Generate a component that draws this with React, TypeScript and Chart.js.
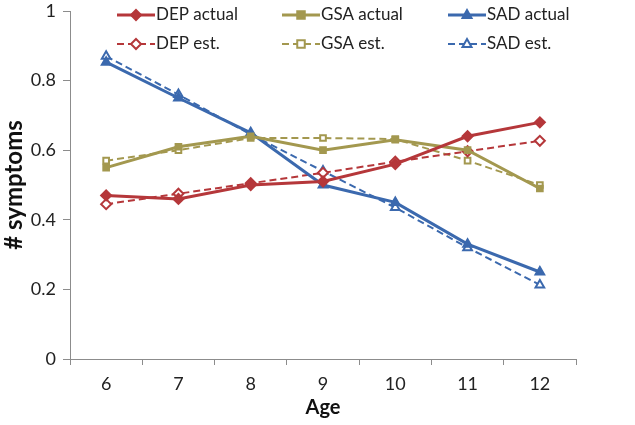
import React, { useEffect, useRef } from 'react';
import { Chart, registerables } from 'chart.js';

Chart.register(...registerables);

const ages = ['6', '7', '8', '9', '10', '11', '12'];
const depActual = [0.47, 0.46, 0.5, 0.51, 0.56, 0.64, 0.68];
const gsaActual = [0.55, 0.61, 0.64, 0.6, 0.63, 0.6, 0.49];
const sadActual = [0.853, 0.75, 0.65, 0.5, 0.45, 0.33, 0.25];
const depEst = [0.445, 0.475, 0.505, 0.535, 0.567, 0.597, 0.627];
const gsaEst = [0.57, 0.6, 0.635, 0.635, 0.632, 0.57, 0.5];
const sadEst = [0.87, 0.76, 0.645, 0.54, 0.435, 0.32, 0.213];
const yTickLabels = ['0', '0.2', '0.4', '0.6', '0.8', '1'];

const RED = '#B5373A';
const OLIVE = '#A3984F';
const BLUE = '#3B69AE';
const FONT = 'Lato, "Open Sans", sans-serif';

function drawMarker(ctx: CanvasRenderingContext2D, style: string, x: number, y: number, r: number, color: string, filled: boolean) {
  ctx.save();
  ctx.beginPath();
  if (style === 'rectRot') {
    ctx.moveTo(x, y - r);
    ctx.lineTo(x + r, y);
    ctx.lineTo(x, y + r);
    ctx.lineTo(x - r, y);
  } else if (style === 'rect') {
    const s = r * 0.75;
    ctx.rect(x - s, y - s, 2 * s, 2 * s);
  } else {
    ctx.moveTo(x, y - r);
    ctx.lineTo(x + r * 0.9, y + r * 0.6);
    ctx.lineTo(x - r * 0.9, y + r * 0.6);
  }
  ctx.closePath();
  ctx.setLineDash([]);
  ctx.fillStyle = filled ? color : '#ffffff';
  ctx.fill();
  ctx.lineWidth = 2;
  ctx.strokeStyle = color;
  ctx.stroke();
  ctx.restore();
}

const legendPlugin = {
  id: 'customLegend',
  afterDraw(chart: any) {
    const ctx = chart.ctx as CanvasRenderingContext2D;
    const cols = [117, 282, 448];
    const rows = [15, 44];
    chart.data.datasets.forEach((ds: any, i: number) => {
      const col = i % 3;
      const row = Math.floor(i / 3);
      const x = cols[col];
      const y = rows[row];
      ctx.save();
      ctx.strokeStyle = ds.borderColor;
      ctx.lineWidth = ds.borderWidth;
      ctx.setLineDash(ds.borderDash || []);
      ctx.beginPath();
      ctx.moveTo(x, y);
      ctx.lineTo(x + 38, y);
      ctx.stroke();
      ctx.restore();
      drawMarker(ctx, ds.pointStyle, x + 19, y, 5, ds.borderColor, ds.pointBackgroundColor !== '#ffffff');
      ctx.save();
      ctx.fillStyle = '#222';
      ctx.font = `17px ${FONT}`;
      ctx.textBaseline = 'middle';
      ctx.textAlign = 'left';
      ctx.fillText(ds.label, x + 39, y);
      ctx.restore();
    });
  },
};

export default function App() {
  const ref = useRef<HTMLCanvasElement>(null);
  useEffect(() => {
    if (!ref.current) return;
    const mk = (label: string, data: number[], color: string, style: string, est: boolean) => ({
      label,
      data,
      borderColor: color,
      backgroundColor: color,
      borderWidth: est ? 2 : 3,
      borderDash: est ? [7, 4] : [],
      pointStyle: style,
      pointRadius: style === 'rect' ? 4 : 5,
      pointBackgroundColor: est ? '#ffffff' : color,
      pointBorderColor: color,
      pointBorderWidth: 2,
      tension: 0,
      fill: false,
    });
    const chart = new Chart(ref.current, {
      type: 'line',
      data: {
        labels: ages,
        datasets: [
          mk('DEP actual', depActual, RED, 'rectRot', false),
          mk('GSA actual', gsaActual, OLIVE, 'rect', false),
          mk('SAD actual', sadActual, BLUE, 'triangle', false),
          mk('DEP est.', depEst, RED, 'rectRot', true),
          mk('GSA est.', gsaEst, OLIVE, 'rect', true),
          mk('SAD est.', sadEst, BLUE, 'triangle', true),
        ],
      },
      options: {
        animation: false,
        responsive: false,
        layout: { padding: { top: 11, right: 59, bottom: 5, left: 0 } },
        plugins: {
          legend: { display: false },
          tooltip: { enabled: false },
        },
        scales: {
          x: {
            type: 'category',
            offset: true,
            grid: {
              offset: true,
              drawOnChartArea: false,
              drawTicks: true,
              tickLength: 6,
              color: '#8c8c8c',
            },
            border: { color: '#8c8c8c', width: 1 },
            ticks: { color: '#222', font: { family: FONT, size: 18 }, padding: 8, maxRotation: 0 },
            title: {
              display: true,
              text: 'Age',
              color: '#111',
              font: { family: FONT, size: 20, weight: 'bold' },
              padding: { top: 0, bottom: 0 },
            },
            afterFit: (s: any) => {
              s.height = 61;
              s.paddingLeft = 0;
              s.paddingRight = 0;
            },
          },
          y: {
            min: 0,
            max: 1,
            ticks: {
              stepSize: 0.2,
              color: '#222',
              font: { family: FONT, size: 18 },
              padding: 7,
              callback: (_v: any, i: number) => yTickLabels[i],
            },
            grid: {
              drawOnChartArea: false,
              drawTicks: true,
              tickLength: 7,
              color: '#8c8c8c',
            },
            border: { color: '#8c8c8c', width: 1 },
            title: {
              display: true,
              text: '# symptoms',
              color: '#111',
              font: { family: FONT, size: 24, weight: 'bold' },
              padding: { top: 0, bottom: 0 },
            },
            afterFit: (s: any) => {
              s.width = 70;
              s.paddingTop = 0;
              s.paddingBottom = 0;
            },
          },
        },
      } as any,
      plugins: [legendPlugin],
    });
    return () => chart.destroy();
  }, []);
  return (
    <div style={{ position: 'fixed', left: 0, top: 0, width: 635, height: 425, background: '#fff' }}>
      <canvas ref={ref} width={635} height={425} />
    </div>
  );
}
